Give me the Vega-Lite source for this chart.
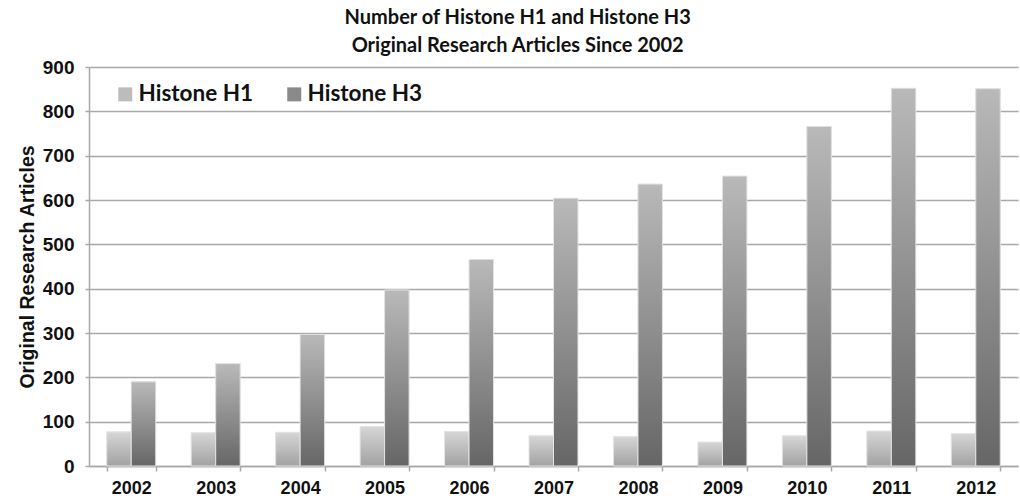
{
  "$schema": "https://vega.github.io/schema/vega-lite/v6.json",
  "width": 929,
  "height": 399,
  "autosize": {"type": "none"},
  "padding": {"left": 89, "top": 67, "right": 2, "bottom": 33},
  "background": "white",
  "title": {
    "text": ["Number of Histone H1 and Histone H3", "Original Research Articles Since 2002"],
    "font": "Lato",
    "fontSize": 20,
    "fontWeight": "bold",
    "color": "#111111",
    "lineHeight": 28,
    "anchor": "middle",
    "frame": "bounds",
    "offset": 2
  },
  "data": {
    "values": [
      {"year": "2002", "series": "Histone H1", "count": 77},
      {"year": "2002", "series": "Histone H3", "count": 190},
      {"year": "2003", "series": "Histone H1", "count": 75},
      {"year": "2003", "series": "Histone H3", "count": 231},
      {"year": "2004", "series": "Histone H1", "count": 76},
      {"year": "2004", "series": "Histone H3", "count": 297},
      {"year": "2005", "series": "Histone H1", "count": 89},
      {"year": "2005", "series": "Histone H3", "count": 397},
      {"year": "2006", "series": "Histone H1", "count": 78},
      {"year": "2006", "series": "Histone H3", "count": 466},
      {"year": "2007", "series": "Histone H1", "count": 68},
      {"year": "2007", "series": "Histone H3", "count": 604},
      {"year": "2008", "series": "Histone H1", "count": 66},
      {"year": "2008", "series": "Histone H3", "count": 636},
      {"year": "2009", "series": "Histone H1", "count": 54},
      {"year": "2009", "series": "Histone H3", "count": 654},
      {"year": "2010", "series": "Histone H1", "count": 68},
      {"year": "2010", "series": "Histone H3", "count": 766},
      {"year": "2011", "series": "Histone H1", "count": 79},
      {"year": "2011", "series": "Histone H3", "count": 852},
      {"year": "2012", "series": "Histone H1", "count": 73},
      {"year": "2012", "series": "Histone H3", "count": 851}
    ]
  },
  "encoding": {
    "x": {
      "field": "year",
      "type": "nominal",
      "title": null,
      "scale": {"paddingInner": 0.42, "paddingOuter": 0.21},
      "axis": {
        "labelAngle": 0,
        "labelFont": "Liberation Sans",
        "labelFontWeight": "bold",
        "labelFontSize": 18,
        "labelColor": "#111111",
        "labelPadding": 8,
        "tickBand": "extent",
        "tickSize": 5,
        "tickColor": "#a8a8a8",
        "tickWidth": 1.5,
        "domainColor": "#a8a8a8",
        "domainWidth": 1.5,
        "grid": false
      }
    },
    "xOffset": {"field": "series", "type": "nominal", "sort": ["Histone H1", "Histone H3"]},
    "y": {
      "field": "count",
      "type": "quantitative",
      "title": "Original Research Articles",
      "scale": {"domain": [0, 900], "nice": false},
      "axis": {
        "values": [0, 100, 200, 300, 400, 500, 600, 700, 800, 900],
        "labelFont": "Liberation Sans",
        "labelFontWeight": "bold",
        "labelFontSize": 19,
        "labelColor": "#111111",
        "labelPadding": 11,
        "tickSize": 4,
        "tickColor": "#a8a8a8",
        "tickWidth": 1.5,
        "domainColor": "#a8a8a8",
        "domainWidth": 1.5,
        "gridColor": "#a8a8a8",
        "gridWidth": 1.5,
        "titleFont": "Liberation Sans",
        "titleFontWeight": "bold",
        "titleFontSize": 19.5,
        "titleColor": "#111111",
        "titlePadding": 5
      }
    }
  },
  "layer": [
    {
      "mark": {"type": "bar"},
      "encoding": {
        "fill": {
          "field": "series",
          "type": "nominal",
          "scale": {"domain": ["Histone H1", "Histone H3"], "range": ["#bcbcbc", "#8a8a8a"]},
          "legend": {
            "title": null,
            "orient": "none",
            "legendX": 25,
            "legendY": 16,
            "direction": "horizontal",
            "symbolType": "square",
            "symbolSize": 196,
            "symbolStrokeWidth": 0,
            "labelFont": "Lato",
            "labelFontWeight": "bold",
            "labelFontSize": 22.5,
            "labelColor": "#111111",
            "labelOffset": 2,
            "columnPadding": 29,
            "labelLimit": 300,
            "symbolOpacity": 1,
            "encoding": {
              "symbols": {
                "fill": [
                  {"test": "datum.value === 'Histone H1'", "value": {"gradient": "linear", "x1": 0, "y1": 0, "x2": 0, "y2": 1, "stops": [{"offset": 0, "color": "#d6d6d6"}, {"offset": 1, "color": "#a2a2a2"}]}},
                  {"value": {"gradient": "linear", "x1": 0, "y1": 0, "x2": 0, "y2": 1, "stops": [{"offset": 0, "color": "#b9b9b9"}, {"offset": 1, "color": "#666666"}]}}
                ]
              }
            }
          }
        }
      }
    },
    {
      "mark": {"type": "bar", "stroke": "#e4e4e4", "strokeWidth": 1},
      "encoding": {
        "fill": {
          "condition": {
            "test": "datum.series === 'Histone H1'",
            "value": {"gradient": "linear", "x1": 0, "y1": 0, "x2": 0, "y2": 1, "stops": [{"offset": 0, "color": "#d6d6d6"}, {"offset": 1, "color": "#a2a2a2"}]}
          },
          "value": {"gradient": "linear", "x1": 0, "y1": 0, "x2": 0, "y2": 1, "stops": [{"offset": 0, "color": "#b9b9b9"}, {"offset": 1, "color": "#666666"}]}
        }
      }
    }
  ],
  "config": {"view": {"stroke": null}}
}
